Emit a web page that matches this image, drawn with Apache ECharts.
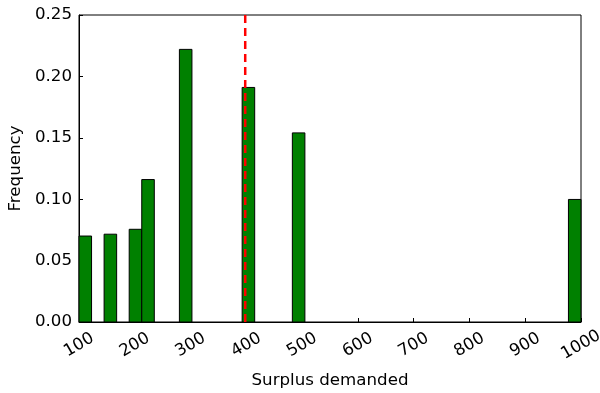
<!DOCTYPE html>
<html>
<head>
<meta charset="utf-8">
<script src="https://cdn.jsdelivr.net/npm/echarts@6/dist/echarts.min.js"></script>
<style>
html,body{margin:0;padding:0;background:#fff;}
#chart{width:600px;height:393px;}
</style>
</head>
<body>
<div id="chart"></div>
<script>
// Histogram bins (left edge of each non-empty bin) and frequencies
const binLeft = [100, 145, 190, 212.5, 280, 392.5, 482.5, 977.5];
const binWidth = 22.5;
const frequency = [0.070, 0.0715, 0.0755, 0.116, 0.222, 0.191, 0.154, 0.0998];
const xTicks = [100, 200, 300, 400, 500, 600, 700, 800, 900, 1000];
const yTicks = [0.00, 0.05, 0.10, 0.15, 0.20, 0.25];
const markerX = 398;

const chart = echarts.init(document.getElementById('chart'), null, {renderer: 'canvas'});
const font = 'DejaVu Sans';
const fs = 16.67;
const barData = binLeft.map((l, i) => [l, l + binWidth, frequency[i]]);

chart.setOption({
  animation: false,
  backgroundColor: '#fff',
  grid: {left: 79, right: 19, top: 15, bottom: 71, show: true, borderColor: '#000', borderWidth: 1,
    backgroundColor: 'transparent', containLabel: false, outerBoundsMode: 'none'},
  xAxis: {
    type: 'value', min: xTicks[0], max: xTicks[xTicks.length - 1], interval: 100,
    name: 'Surplus demanded', nameLocation: 'middle', nameGap: 50,
    nameTextStyle: {fontFamily: font, fontSize: fs, color: '#000'},
    axisLine: {show: true, lineStyle: {color: '#000', width: 1}},
    axisTick: {show: true, inside: true, length: 4, lineStyle: {color: '#000'}},
    splitLine: {show: false},
    axisLabel: {rotate: 30, align: 'center', verticalAlign: 'middle', margin: 23,
      fontFamily: font, fontSize: fs, color: '#000', showMinLabel: true, showMaxLabel: true,
      hideOverlap: false, formatter: v => String(v)}
  },
  yAxis: {
    type: 'value', min: yTicks[0], max: yTicks[yTicks.length - 1], interval: 0.05,
    name: 'Frequency', nameLocation: 'middle', nameGap: 54, nameRotate: 90,
    nameTextStyle: {fontFamily: font, fontSize: fs, color: '#000'},
    axisLine: {show: true, lineStyle: {color: '#000', width: 1}},
    axisTick: {show: true, inside: true, length: 4, lineStyle: {color: '#000'}},
    splitLine: {show: false},
    axisLabel: {fontFamily: font, fontSize: fs, color: '#000', margin: 7,
      formatter: v => v.toFixed(2)}
  },
  series: [
    {
      type: 'custom',
      data: barData,
      encode: {x: [0, 1], y: 2},
      z: 2,
      renderItem: function (params, api) {
        const p0 = api.coord([api.value(0), api.value(2)]);
        const p1 = api.coord([api.value(1), 0]);
        return {
          type: 'rect',
          shape: {x: p0[0], y: p0[1], width: p1[0] - p0[0], height: p1[1] - p0[1]},
          style: {fill: '#008000', stroke: '#000', lineWidth: 1}
        };
      }
    },
    {
      type: 'line',
      data: [[markerX, yTicks[0]], [markerX, yTicks[yTicks.length - 1]]],
      showSymbol: false,
      z: 5,
      lineStyle: {color: '#ff0000', width: 2.5, type: [8, 5]}
    }
  ]
});
</script>
</body>
</html>
